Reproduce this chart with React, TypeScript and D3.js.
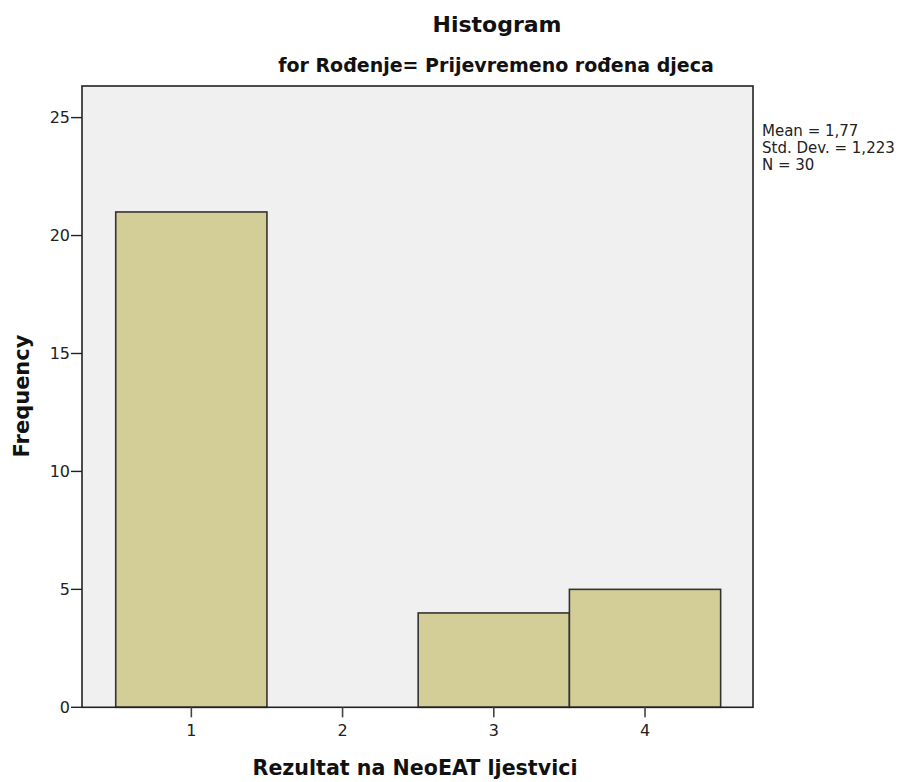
import React from "react";
import * as d3 from "d3";

const binCenters = [1, 2, 3, 4];
const frequencies = [21, 0, 4, 5];
const xTickValues = [1, 2, 3, 4];
const yTickValues = [0, 5, 10, 15, 20, 25];
const statsLines = ["Mean = 1,77", "Std. Dev. = 1,223", "N = 30"];
const titleText = "Histogram";
const subtitleText = "for Rođenje= Prijevremeno rođena djeca";
const xLabel = "Rezultat na NeoEAT ljestvici";
const yLabel = "Frequency";

const W = 903;
const H = 782;
const plot = { left: 82, right: 753, top: 86, bottom: 707.3 };
const FONT = "'DejaVu Sans', 'Liberation Sans', Arial, sans-serif";

export default function App() {
  const x = d3.scaleLinear().domain([0.277, 4.714]).range([plot.left, plot.right]);
  const y = d3.scaleLinear().domain([0, 26.34]).range([plot.bottom, plot.top]);
  const binW = 1;

  return (
    <svg
      width={W}
      height={H}
      style={{ position: "absolute", left: 0, top: 0, background: "#fff" }}
      fontFamily={FONT}
    >
      <rect
        x={plot.left}
        y={plot.top}
        width={plot.right - plot.left}
        height={plot.bottom - plot.top}
        fill="#f0f0f0"
        stroke="none"
      />
      {binCenters.map((c, i) =>
        frequencies[i] > 0 ? (
          <rect
            key={i}
            x={x(c - binW / 2)}
            y={y(frequencies[i])}
            width={x(c + binW / 2) - x(c - binW / 2)}
            height={y(0) - y(frequencies[i])}
            fill="#d3ce97"
            stroke="#333"
            strokeWidth={1.6}
          />
        ) : null
      )}
      <rect
        x={plot.left}
        y={plot.top}
        width={plot.right - plot.left}
        height={plot.bottom - plot.top}
        fill="none"
        stroke="#222"
        strokeWidth={1.6}
      />
      {yTickValues.map((v) => (
        <g key={v}>
          <line x1={plot.left - 11} x2={plot.left} y1={y(v)} y2={y(v)} stroke="#222" strokeWidth={1.4} />
          <text x={plot.left - 12} y={y(v)} dy="0.36em" textAnchor="end" fontSize={16} fill="#222">
            {v}
          </text>
        </g>
      ))}
      {xTickValues.map((v) => (
        <g key={v}>
          <line x1={x(v)} x2={x(v)} y1={plot.bottom} y2={plot.bottom + 10} stroke="#444" strokeWidth={1.6} />
          <text x={x(v)} y={plot.bottom + 29} textAnchor="middle" fontSize={16} fill="#222">
            {v}
          </text>
        </g>
      ))}
      <text x={497} y={32} textAnchor="middle" fontSize={22} fontWeight="bold" fill="#111">
        {titleText}
      </text>
      <text x={496} y={72} textAnchor="middle" fontSize={19} fontWeight="bold" fill="#111">
        {subtitleText}
      </text>
      <text x={415} y={775} textAnchor="middle" fontSize={20.6} fontWeight="bold" fill="#111">
        {xLabel}
      </text>
      <text
        transform={`translate(29,396) rotate(-90)`}
        textAnchor="middle"
        fontSize={21}
        fontWeight="bold"
        fill="#111"
      >
        {yLabel}
      </text>
      {statsLines.map((s, i) => (
        <text key={i} x={762} y={136 + i * 17} fontSize={15} fill="#222">
          {s}
        </text>
      ))}
    </svg>
  );
}
